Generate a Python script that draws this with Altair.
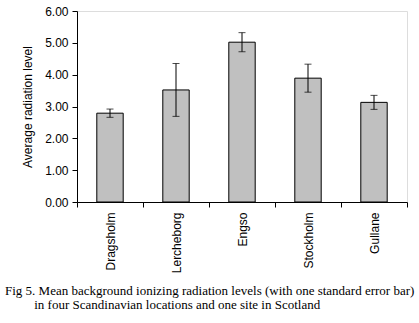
import altair as alt
import pandas as pd

sites = ["Dragsholm", "Lercheborg", "Engso", "Stockholm", "Gullane"]
means = [2.79, 3.52, 5.02, 3.89, 3.13]
errors = [0.13, 0.83, 0.30, 0.44, 0.22]
y_ticks = [0.0, 1.0, 2.0, 3.0, 4.0, 5.0, 6.0]
caption = [
    "Fig 5. Mean background ionizing radiation levels (with one standard error bar)",
    "\u200b" + "\u00a0" * 9 + "in four Scandinavian locations and one site in Scotland",
]

df = pd.DataFrame({"site": sites, "mean": means, "err": errors})
df["lo"] = df["mean"] - df["err"]
df["hi"] = df["mean"] + df["err"]

FONT = "Liberation Sans"

x_axis = alt.Axis(
    tickBand="extent",
    labelAngle=-90,
    tickSize=5,
    labelPadding=5,
    labelFont=FONT,
    labelFontSize=12,
    labelColor="black",
    domainColor="black",
    tickColor="black",
    labelOverlap=False,
)
x_scale = alt.Scale(paddingInner=0, paddingOuter=0)

y_axis = alt.Axis(
    values=y_ticks,
    format=".2f",
    grid=False,
    tickSize=5,
    labelPadding=4,
    labelFont=FONT,
    labelFontSize=12,
    labelColor="black",
    labelOverlap=False,
    labelSeparation=0,
    titleFont=FONT,
    titleFontSize=12,
    titleFontWeight="normal",
    titleColor="black",
    titlePadding=10,
    domainColor="black",
    tickColor="black",
)
y_scale = alt.Scale(domain=[0, 6], nice=False)
Y_TITLE = "Average radiation level"


def xenc():
    return alt.X("site:N", sort=sites, title=None, scale=x_scale, axis=x_axis)


bars = alt.Chart(df).mark_bar(
    width=alt.RelativeBandSize(0.4), fill="#c0c0c0", stroke="black", strokeWidth=1
).encode(
    x=xenc(),
    y=alt.Y("mean:Q", scale=y_scale, title=Y_TITLE, axis=y_axis),
)

rules = alt.Chart(df).mark_rule(color="black", strokeWidth=1).encode(
    x=xenc(), y=alt.Y("lo:Q", scale=y_scale, title=Y_TITLE, axis=y_axis), y2="hi:Q"
)
caps_lo = alt.Chart(df).mark_tick(color="black", size=7, thickness=1, orient="horizontal").encode(
    x=xenc(), y=alt.Y("lo:Q", scale=y_scale, title=Y_TITLE, axis=y_axis)
)
caps_hi = alt.Chart(df).mark_tick(color="black", size=7, thickness=1, orient="horizontal").encode(
    x=xenc(), y=alt.Y("hi:Q", scale=y_scale, title=Y_TITLE, axis=y_axis)
)

chart = (
    alt.layer(bars, rules, caps_lo, caps_hi)
    .properties(
        width=330,
        height=191,
        autosize=alt.AutoSizeParams(type="none"),
        padding={"left": 77, "top": 11, "right": 12, "bottom": 121},
        title=alt.TitleParams(
            caption,
            orient="bottom",
            anchor="start",
            frame="group",
            dx=-72,
            offset=12,
            font="Liberation Serif",
            fontSize=13,
            fontWeight="normal",
            color="black",
            lineHeight=14,
        ),
    )
    .configure_view(stroke="black", strokeWidth=1)
    .configure_axisY(labelOverlap=False, values=y_ticks)
    .configure(background="white")
)

chart.save("out.html", embed_options={"renderer": "svg", "actions": False})
